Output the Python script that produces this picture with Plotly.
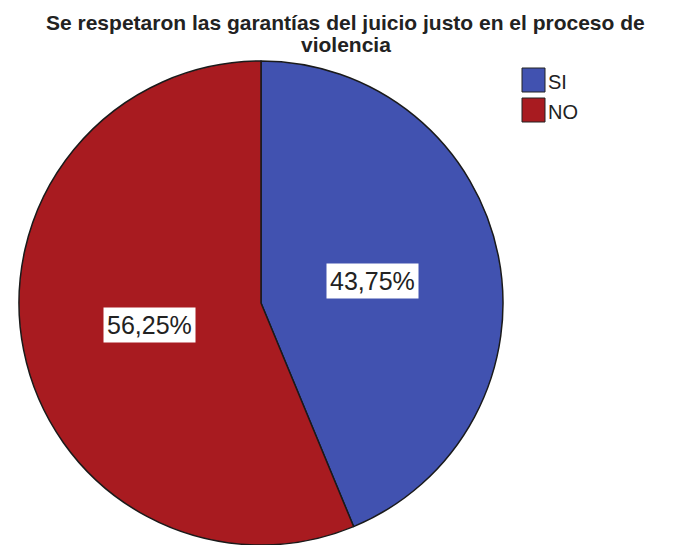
import math
import plotly.graph_objects as go

# Survey answers and their shares
categories = ["SI", "NO"]
shares = [43.75, 56.25]
slice_colors = ["#4152B0", "#A81B20"]

title_lines = ["Se respetaron las garantías del juicio justo en el proceso de",
               "violencia"]

W, H = 687, 545
# pie placement in pixels
cx, cy, R = 261, 303, 242

fig = go.Figure(go.Pie(
    labels=categories,
    values=shares,
    sort=False,
    direction="clockwise",
    rotation=0,
    marker=dict(colors=slice_colors, line=dict(color="#1a1a1a", width=1.5)),
    textinfo="none",
    hoverinfo="label+percent",
    showlegend=False,
    domain=dict(x=[(cx - R) / W, (cx + R) / W],
                y=[(H - cy - R) / H, (H - cy + R) / H]),
))

annotations = []
# percentage labels in white boxes, placed at each slice's mid-angle
total = sum(shares)
start = 0.0
label_frac = 0.47
for v in shares:
    mid = (start + v / 2) / total * 2 * math.pi
    start += v
    px = cx + label_frac * R * math.sin(mid)
    py = cy - label_frac * R * math.cos(mid)
    annotations.append(dict(
        x=px / W, y=1 - py / H, xref="paper", yref="paper",
        xanchor="center", yanchor="middle",
        text=f"{v:.2f}".replace(".", ",") + "%",
        showarrow=False, bgcolor="white", borderpad=3,
        font=dict(family="Liberation Sans, Arial", size=25, color="#222"),
    ))

# two-line bold title
for i, line in enumerate(title_lines):
    annotations.append(dict(
        x=0.503, y=1 - (22 + i * 22) / H, xref="paper", yref="paper",
        xanchor="center", yanchor="middle",
        text=f"<b>{line}</b>", showarrow=False,
        font=dict(family="Liberation Sans, Arial", size=21, color="#222"),
    ))

# legend keys drawn as boxes with labels
shapes = []
key_x0, key_y0, key_w, key_h, key_step = 522, 68, 23, 24, 30
for i, (lab, col) in enumerate(zip(categories, slice_colors)):
    y0 = key_y0 + i * key_step
    shapes.append(dict(type="rect", xref="paper", yref="paper",
                       x0=key_x0 / W, x1=(key_x0 + key_w) / W,
                       y0=1 - (y0 + key_h) / H, y1=1 - y0 / H,
                       fillcolor=col, line=dict(color="#222", width=1)))
    annotations.append(dict(
        x=(key_x0 + key_w + 1) / W, y=1 - (y0 + key_h / 2 + 2) / H,
        xref="paper", yref="paper", xanchor="left", yanchor="middle",
        text=lab, showarrow=False,
        font=dict(family="Liberation Sans, Arial", size=20, color="#222"),
    ))

fig.update_layout(
    width=W, height=H,
    margin=dict(l=0, r=0, t=0, b=0),
    paper_bgcolor="white", plot_bgcolor="white",
    annotations=annotations, shapes=shapes,
)

fig.write_html("out.html")
